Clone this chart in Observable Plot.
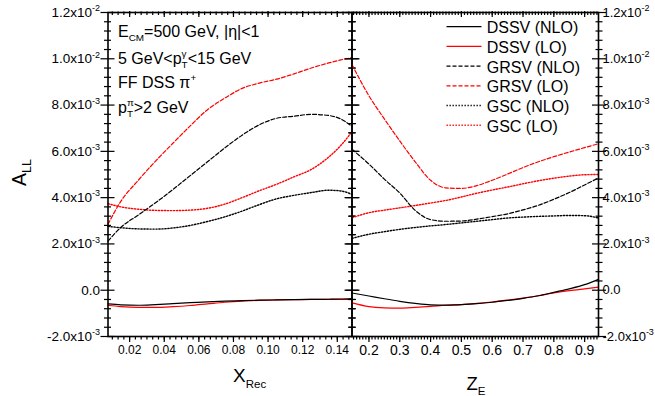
<!DOCTYPE html>
<html><head><meta charset="utf-8">
<script src="https://cdn.jsdelivr.net/npm/d3@7"></script>
<script src="https://cdn.jsdelivr.net/npm/@observablehq/plot@0.6"></script>
<style>
html,body{margin:0;padding:0;background:#fff;}
#wrap{position:relative;width:655px;height:396px;overflow:hidden;background:#fff;}
#wrap svg{position:absolute;left:0;top:0;}
</style></head><body><div id="wrap"></div>
<script>
const FONT = "Arial, 'Liberation Sans', Helvetica, sans-serif";

// ---- series definitions ----
const seriesNames  = ["DSSV (NLO)", "DSSV (LO)", "GRSV (NLO)", "GRSV (LO)", "GSC (NLO)", "GSC (LO)"];
const seriesColors = ["#000000", "#ff0000", "#000000", "#ff0000", "#000000", "#ff0000"];
const seriesDashes = [null, null, "4,2", "4,2", "1.3,1.7", "1.3,1.7"];

// ---- left panel: A_LL vs X_Rec (values in units of 1e-3) ----
const xRec = [0.0075, 0.015, 0.025, 0.035, 0.045, 0.055, 0.065, 0.075, 0.085, 0.095, 0.105, 0.115, 0.125, 0.135, 0.142, 0.1485];
const xRecDSSVNLO = [-0.59, -0.63, -0.65, -0.62, -0.58, -0.54, -0.50, -0.47, -0.45, -0.43, -0.42, -0.41, -0.40, -0.39, -0.38, -0.36];
const xRecDSSVLO  = [-0.65, -0.71, -0.74, -0.74, -0.71, -0.66, -0.59, -0.52, -0.47, -0.44, -0.42, -0.41, -0.40, -0.40, -0.40, -0.40];
const xRecGRSVNLO = [2.12, 2.72, 3.25, 3.78, 4.35, 4.95, 5.55, 6.15, 6.70, 7.15, 7.43, 7.52, 7.60, 7.55, 7.40, 7.08];
const xRecGRSVLO  = [2.85, 3.85, 4.75, 5.58, 6.35, 7.10, 7.80, 8.30, 8.72, 8.95, 9.12, 9.35, 9.60, 9.82, 9.95, 10.05];
const xRecGSCNLO  = [2.76, 2.70, 2.65, 2.64, 2.69, 2.80, 2.97, 3.17, 3.42, 3.70, 3.95, 4.10, 4.22, 4.32, 4.29, 4.14];
const xRecGSCLO   = [3.74, 3.60, 3.50, 3.45, 3.44, 3.46, 3.54, 3.72, 4.00, 4.30, 4.58, 4.90, 5.22, 5.75, 6.25, 6.85];

// ---- right panel: A_LL vs Z_E (values in units of 1e-3) ----
const zE = [0.145, 0.2, 0.25, 0.3, 0.35, 0.4, 0.45, 0.5, 0.55, 0.6, 0.65, 0.7, 0.75, 0.8, 0.85, 0.9, 0.945];
const zEDSSVNLO = [-0.12, -0.25, -0.37, -0.48, -0.57, -0.63, -0.64, -0.62, -0.58, -0.52, -0.44, -0.35, -0.24, -0.09, 0.06, 0.24, 0.47];
const zEDSSVLO  = [-0.55, -0.71, -0.76, -0.77, -0.74, -0.70, -0.65, -0.62, -0.57, -0.51, -0.43, -0.34, -0.24, -0.12, -0.02, 0.06, 0.13];
const zEGRSVNLO = [6.09, 5.45, 4.80, 4.20, 3.45, 3.05, 2.98, 2.99, 3.07, 3.18, 3.30, 3.47, 3.67, 3.93, 4.22, 4.55, 4.85];
const zEGRSVLO  = [9.75, 8.40, 7.40, 6.45, 5.55, 4.75, 4.42, 4.40, 4.52, 4.75, 5.02, 5.30, 5.55, 5.77, 5.97, 6.16, 6.33];
const zEGSCNLO  = [2.24, 2.42, 2.53, 2.63, 2.71, 2.78, 2.84, 2.91, 2.98, 3.05, 3.12, 3.16, 3.19, 3.21, 3.23, 3.22, 3.12];
const zEGSCLO   = [3.13, 3.35, 3.46, 3.56, 3.66, 3.77, 3.88, 4.03, 4.19, 4.33, 4.46, 4.60, 4.73, 4.84, 4.93, 4.99, 5.00];

// ---- ticks ----
const yDomain = [-2, 12];
const yTickValues = [-2, 0, 2, 4, 6, 8, 10, 12];
const yTickLabels = ["-2.0x10^-3", "0.0", "2.0x10^-3", "4.0x10^-3", "6.0x10^-3", "8.0x10^-3", "1.0x10^-2", "1.2x10^-2"];
const xRecDomain = [0.0075, 0.1485];
const xRecTickValues = [0.02, 0.04, 0.06, 0.08, 0.10, 0.12, 0.14];
const xRecTickLabels = ["0.02", "0.04", "0.06", "0.08", "0.10", "0.12", "0.14"];
const zEDomain = [0.145, 0.945];
const zETickValues = [0.2, 0.3, 0.4, 0.5, 0.6, 0.7, 0.8, 0.9];
const zETickLabels = ["0.2", "0.3", "0.4", "0.5", "0.6", "0.7", "0.8", "0.9"];

const yMinor = d3.range(-2, 12.001, 0.4).filter(v => Math.abs(v / 2 - Math.round(v / 2)) > 1e-6);
const xRecMinor = d3.range(-3, 40).map(k => 0.02 + k * 0.02 / 6).filter(v => v > xRecDomain[0] && v < xRecDomain[1]);
const zEMinor = d3.range(15, 95).map(k => k / 100).filter(v => v > zEDomain[0] && v < zEDomain[1]);

const wrap = document.getElementById("wrap");

function panel({xDomain, xs, ys, xTicks, xLabels, xMinor, mLeft, mRight, side, xFont, pad, yFont}) {
  const yLab = new Map(yTickValues.map((v, i) => [v, yTickLabels[i]]));
  const xLab = new Map(xTicks.map((v, i) => [v, xLabels[i]]));
  const marks = [];
  for (const a of ["left", "right"]) {
    const s = a === "left" ? 1 : -1;
    marks.push(Plot.axisY(yTickValues, {anchor: a, tickSize: 14, dx: 7 * s, fill: "none", label: null, strokeWidth: 1.2}));
    marks.push(Plot.axisY(yMinor, {anchor: a, tickSize: 7, dx: 3.5 * s, fill: "none", label: null, strokeWidth: 1.2}));
  }
  if (side) {
    marks.push(Plot.axisY(yTickValues, {anchor: side, tickSize: 0, tickPadding: pad, tickFormat: d => yLab.get(d), stroke: "none", label: null, fontSize: yFont}));
  }
  marks.push(Plot.axisX(xTicks, {anchor: "bottom", tickSize: 6, fill: "none", label: null, strokeWidth: 1.2}));
  marks.push(Plot.axisX(xMinor, {anchor: "bottom", tickSize: 3.5, fill: "none", label: null, strokeWidth: 1.2}));
  marks.push(Plot.axisX(xTicks, {anchor: "top", tickSize: 6, dy: 4, fill: "none", label: null, strokeWidth: 1.2}));
  marks.push(Plot.axisX(xMinor, {anchor: "top", tickSize: 3.5, dy: 2, fill: "none", label: null, strokeWidth: 1.2}));
  marks.push(Plot.axisX(xTicks, {anchor: "bottom", tickSize: 0, tickPadding: 9, tickFormat: d => xLab.get(d), stroke: "none", label: null, fontSize: xFont}));
  for (const i of [4, 5, 2, 3, 1, 0]) {
    const data = xs.map((x, j) => ({x, y: ys[i][j]}));
    marks.push(Plot.line(data, {x: "x", y: "y", stroke: seriesColors[i], strokeWidth: seriesDashes[i] && seriesDashes[i].startsWith("1.3") ? 1.4 : 1.2,
      strokeDasharray: seriesDashes[i] || undefined, curve: "monotone-x"}));
  }
  marks.push(Plot.frame({stroke: "#000", strokeWidth: 1.6}));
  const svg = Plot.plot({
    width: 655, height: 396,
    marginTop: 12, marginBottom: 60, marginLeft: mLeft, marginRight: mRight,
    style: {background: "transparent", overflow: "visible", fontFamily: FONT, fontSize: "14px", color: "#000"},
    x: {domain: xDomain, axis: null},
    y: {domain: yDomain, axis: null},
    marks
  });
  svg.querySelectorAll("text").forEach(t => {
    const s = t.textContent;
    if (s.includes("^")) {
      const [base, ex] = s.split("^");
      while (t.firstChild) t.removeChild(t.firstChild);
      const a = document.createElementNS("http://www.w3.org/2000/svg", "tspan");
      a.textContent = base;
      const b = document.createElementNS("http://www.w3.org/2000/svg", "tspan");
      b.textContent = ex;
      b.setAttribute("dy", "-5.5");
      b.setAttribute("font-size", "9");
      t.appendChild(a); t.appendChild(b);
    }
  });
  wrap.appendChild(svg);
}

panel({xDomain: xRecDomain, xs: xRec,
  ys: [xRecDSSVNLO, xRecDSSVLO, xRecGRSVNLO, xRecGRSVLO, xRecGSCNLO, xRecGSCLO],
  xTicks: xRecTickValues, xLabels: xRecTickLabels, xMinor: xRecMinor,
  mLeft: 107.5, mRight: 303.5, side: "left", xFont: 12, pad: 8, yFont: 13.5});
panel({xDomain: zEDomain, xs: zE,
  ys: [zEDSSVNLO, zEDSSVLO, zEGRSVNLO, zEGRSVLO, zEGSCNLO, zEGSCLO],
  xTicks: zETickValues, xLabels: zETickLabels, xMinor: zEMinor,
  mLeft: 351.5, mRight: 57, side: "right", xFont: 14, pad: 4, yFont: 13});

// ---- overlay texts (annotations, legend, axis titles) ----
const ov = d3.select(wrap).append("svg").attr("width", 655).attr("height", 396)
  .style("overflow", "visible").attr("font-family", FONT).attr("fill", "#000");

function rich(g, x, y, size, parts) {
  let cx = x;
  for (const p of parts) {
    if (p.stack) {
      const fs = size * 0.62;
      const a = g.append("text").attr("x", cx).attr("y", y - size * 0.42).attr("font-size", fs).style("white-space", "pre").text(p.stack[0]);
      const b = g.append("text").attr("x", cx).attr("y", y + size * 0.24).attr("font-size", fs).style("white-space", "pre").text(p.stack[1]);
      cx += Math.max(a.node().getComputedTextLength(), b.node().getComputedTextLength());
    } else {
      const fs = p.sub || p.sup ? (p.fs || size * 0.62) : size;
      const yy = p.sub ? y + (p.shift || size * 0.24) : p.sup ? y - size * 0.42 : y;
      const t = g.append("text").attr("x", cx).attr("y", yy).attr("font-size", fs).style("white-space", "pre").text(p.t);
      cx += t.node().getComputedTextLength();
    }
  }
}

rich(ov, 118, 36.7, 16, [{t: "E"}, {t: "CM", sub: true}, {t: "=500 GeV, |η|<1"}]);
rich(ov, 118, 64, 16, [{t: "5 GeV<p"}, {stack: ["γ", "T"]}, {t: "<15 GeV"}]);
rich(ov, 118, 87.5, 16, [{t: "FF DSS π"}, {t: "+", sup: true}]);
rich(ov, 118, 113, 16, [{t: "p"}, {stack: ["π", "T"]}, {t: ">2 GeV"}]);

// legend
seriesNames.forEach((name, i) => {
  const yc = 26.7 + i * 19.7;
  ov.append("line").attr("x1", 446.5).attr("x2", 481.5).attr("y1", yc).attr("y2", yc)
    .attr("stroke", seriesColors[i]).attr("stroke-width", seriesDashes[i] && seriesDashes[i].startsWith("1.3") ? 1.4 : 1.2)
    .attr("stroke-dasharray", seriesDashes[i] || null);
  ov.append("text").attr("x", 486.7).attr("y", yc + 6.6).attr("font-size", 16).text(name);
});

// axis titles
rich(ov, 233, 381.7, 19, [{t: "X"}, {t: "Rec", sub: true, fs: 11.5, shift: 6.5}]);
rich(ov, 466.5, 390, 18.5, [{t: "Z"}, {t: "E", sub: true, fs: 11.5, shift: 4.5}]);
const gA = ov.append("g").attr("transform", "translate(26,186) rotate(-90)");
rich(gA, 0, 0, 19.5, [{t: "A"}, {t: "LL", sub: true, fs: 12.5, shift: 4.5}]);
</script>
</body></html>
